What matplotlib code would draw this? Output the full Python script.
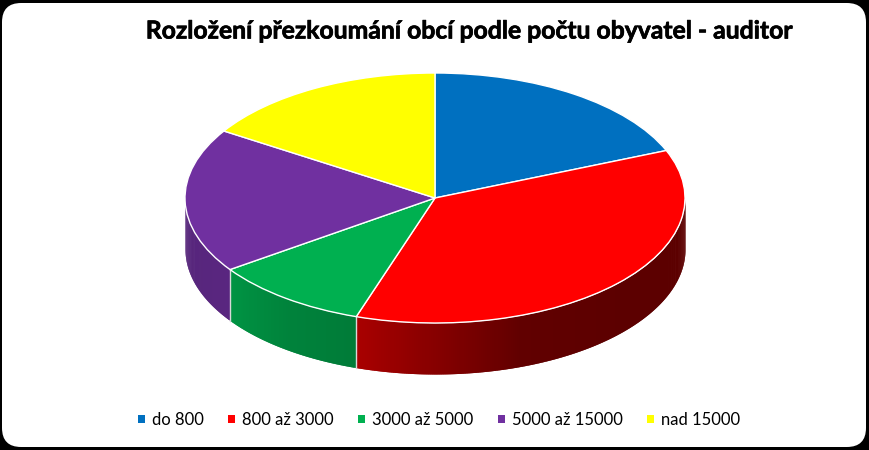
import numpy as np
import matplotlib
matplotlib.use("Agg")
import matplotlib.pyplot as plt
import matplotlib.patheffects as pe
from matplotlib.patches import FancyBboxPatch

title = "Rozložení přezkoumání obcí podle počtu obyvatel - auditor"
labels = ["do 800", "800 až 3000", "3000 až 5000", "5000 až 15000", "nad 15000"]
values = [18.8, 36.3, 10.2, 18.7, 16.0]
colors = ["#0070c0", "#ff0000", "#00b050", "#7030a0", "#ffff00"]

W, H = 869, 450
plt.rcParams["font.family"] = ["Lato", "DejaVu Sans"]

fig = plt.figure(figsize=(W / 100, H / 100), dpi=100, facecolor="black")

# white rounded card on the black background
card = FancyBboxPatch((2 / W, 3 / H), 864 / W, 444 / H,
                      boxstyle="round,pad=0,rounding_size=0.022",
                      mutation_aspect=W / H, transform=fig.transFigure,
                      fc="white", ec="none", zorder=-5)
fig.add_artist(card)

# axes over the whole figure, one unit = pie radius, squashed to look tilted
rx, ry, cx, cy = 250, 125, 435, 198
depth = 51 / ry
ax = fig.add_axes([0, 0, 1, 1])
wedges, _ = ax.pie(values, colors=colors, startangle=90, counterclock=False,
                   wedgeprops=dict(edgecolor="white", linewidth=1.0, zorder=3))
ax.set_aspect("auto")
ax.set_xlim(-cx / rx, (W - cx) / rx)
ax.set_ylim(-(H - cy) / ry, cy / ry)
ax.patch.set_alpha(0)


def shade(col, f):
    return tuple(c * f for c in matplotlib.colors.to_rgb(col))


# side wall, drawn in thin strips so the shading can change along the rim
start = 0
for val, col in zip(values, colors):
    a0 = start
    a1 = start + val / sum(values) * 360
    start = a1
    lo, hi = max(a0, 90), min(a1, 270)
    if lo >= hi:
        continue
    steps = np.linspace(lo, hi, int(hi - lo) * 2 + 2)
    step = steps[1] - steps[0]
    # each strip overlaps the next one so no seams show
    for t0 in steps[:-1]:
        t1 = min(t0 + step * 2, hi)
        ts = np.radians(np.linspace(t0, t1, 5))
        xs = np.sin(ts)
        ys = np.cos(ts)
        mid = t0 + step / 2
        # lighter toward the left of the front, darkest toward the right
        f = np.interp(mid, [90, 130, 160, 198, 235, 270], [0.36, 0.36, 0.38, 0.66, 0.80, 0.76])
        if col == "#00b050":
            f = np.interp(mid, [198, 215, 235], [0.70, 0.74, 0.84])
        ax.fill_between(xs, ys - depth, ys, color=shade(col, f), lw=0, zorder=2)
    # pale seam where two slices meet on the wall
    if 90 < a0 < 270:
        x0, y0 = np.sin(np.radians(a0)), np.cos(np.radians(a0))
        ax.plot([x0, x0], [y0, y0 - depth], color="#d8d8d8", lw=1.0, zorder=2.5)

ax.text((469 - cx) / rx, (cy - 31) / ry, title, fontsize=17.8, fontweight="bold",
        ha="center", va="center", color="black",
        path_effects=[pe.withStroke(linewidth=0.5, foreground="black")])

leg = ax.legend(wedges, labels, ncol=5, frameon=False, loc="center",
                bbox_to_anchor=(439 / W, 1 - 420 / H), bbox_transform=fig.transFigure,
                fontsize=12, handlelength=0.42, handleheight=0.42, handletextpad=0.42,
                columnspacing=1.47, borderpad=0)
for h in leg.get_patches():
    h.set_edgecolor("none")

fig.savefig("out.png", dpi=100, facecolor="black")
